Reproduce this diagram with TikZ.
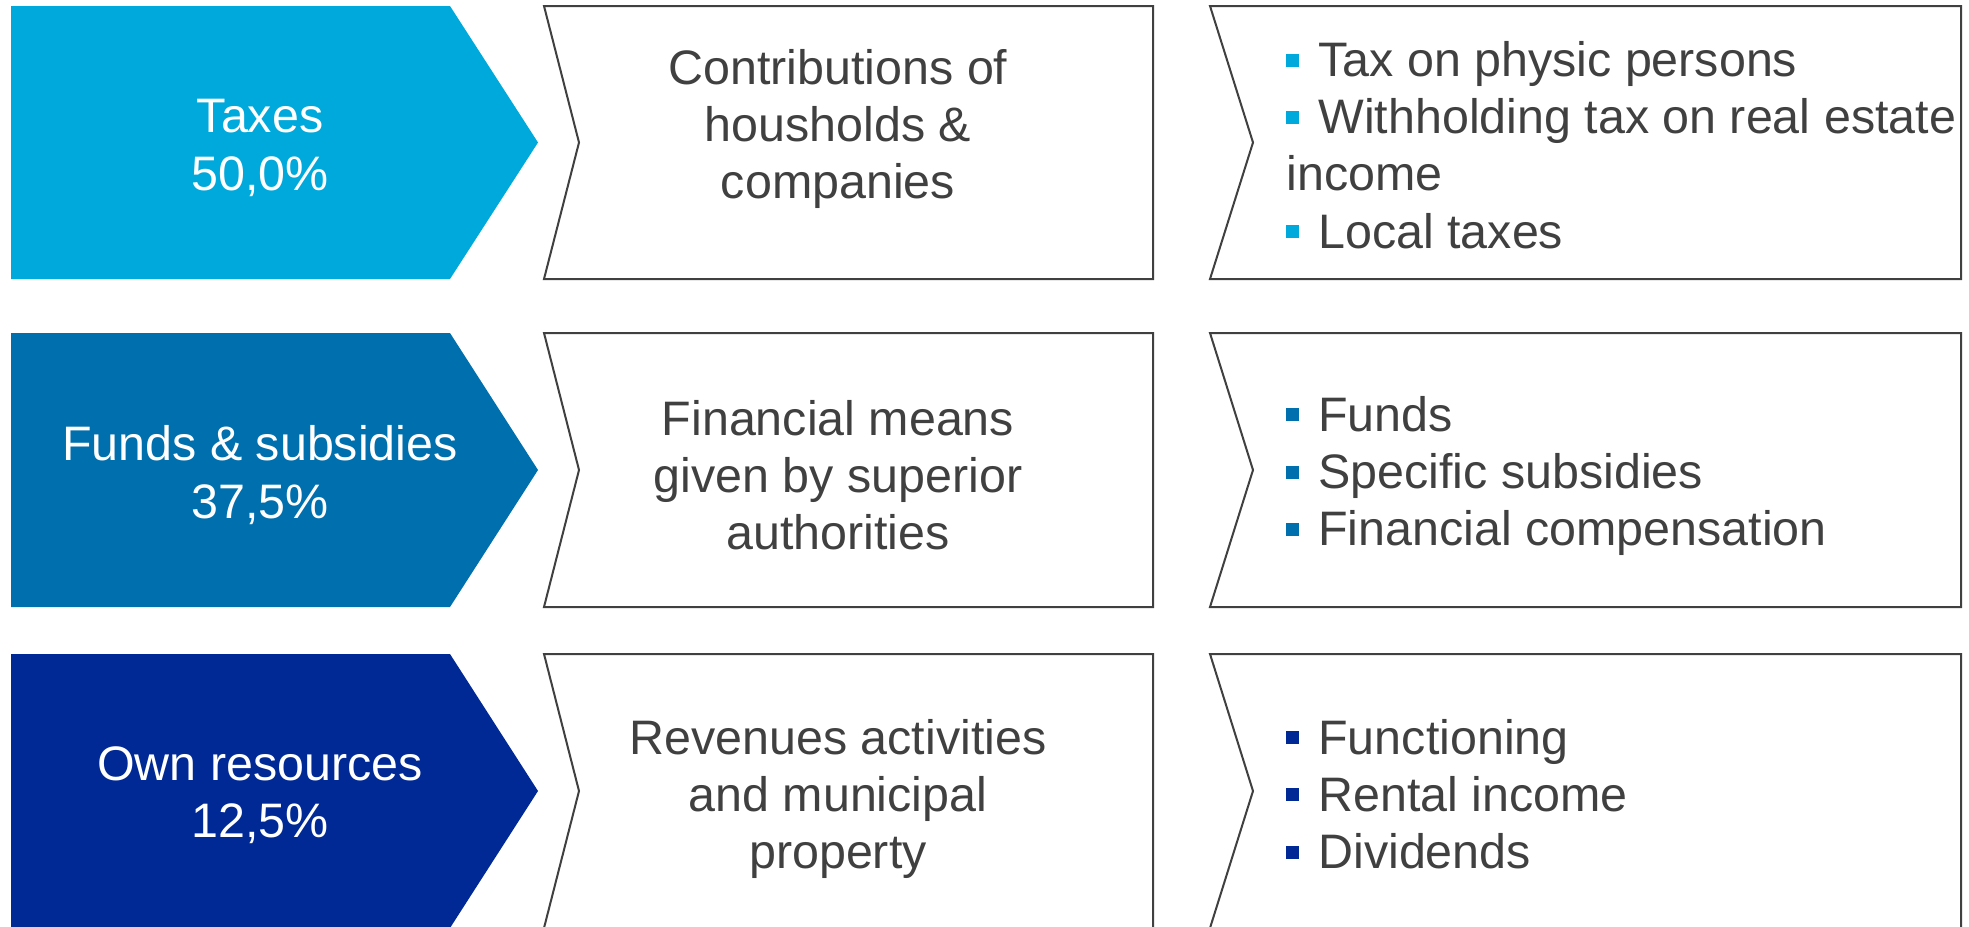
\documentclass[tikz,border=0pt]{standalone}
\usepackage{fontspec}
\setmainfont{Liberation Sans}
\usepackage{tikz}

\definecolor{taxblue}{RGB}{0,169,219}
\definecolor{fundblue}{RGB}{0,111,174}
\definecolor{ownblue}{RGB}{0,41,150}
\definecolor{textgray}{RGB}{64,64,64}

\newcommand{\sqbul}[1]{\raisebox{5pt}{\textcolor{#1}{\rule{6.5pt}{6.5pt}}}\hspace{9.5pt}}

\begin{document}
\begin{tikzpicture}[x=0.5pt, y=-0.5pt,
    box/.style={draw=textgray, line width=1pt, fill=white},
    big/.style={font=\fontsize{24.2}{28.6}\selectfont, inner sep=0pt},
    share/.style={big, text=white, align=center},
    src/.style={big, text=textgray, align=center},
    list/.style={big, text=textgray, align=left, anchor=west}]

\useasboundingbox (0,0) rectangle (1969,926);

% arrows and chevrons
\foreach \t/\b/\c in {6/279/taxblue, 333/607/fundblue, 654/928/ownblue}
{
\fill[\c] (11,\t) -- (450,\t) -- (538,{(\t+\b)/2}) -- (450,\b) -- (11,\b) -- cycle;
\draw[box] (544,\t) -- (1153,\t) -- (1153,\b) -- (544,\b) -- (579,{(\t+\b)/2}) -- cycle;
\draw[box] (1210,\t) -- (1961,\t) -- (1961,\b) -- (1210,\b) -- (1253,{(\t+\b)/2}) -- cycle;
}

% taxes
\node[share] (tax) at (260,148) {Taxes\\50,0\%};
\node[src] (taxsrc) at (838,129) {Contributions of\\housholds \&\\companies};
\node[list] (taxlist) at (1286,145) {\sqbul{taxblue}Tax on physic persons\\
  \sqbul{taxblue}Withholding tax on real estate\\income\\\sqbul{taxblue}Local taxes};

% funds
\node[share] (fund) at (260,475) {Funds \& subsidies\\37,5\%};
\node[src] (fundsrc) at (838,475) {Financial means\\given by superior\\authorities};
\node[list] (fundlist) at (1286,476) {\sqbul{fundblue}Funds\\
  \sqbul{fundblue}Specific subsidies\\\sqbul{fundblue}Financial compensation};

% own resources
\node[share] (own) at (260,795) {Own resources\\12,5\%};
\node[src] (ownsrc) at (838,799) {Revenues activities\\and municipal\\property};
\node[list] (ownlist) at (1286,794) {\sqbul{ownblue}Functioning\\
  \sqbul{ownblue}Rental income\\\sqbul{ownblue}Dividends};

\end{tikzpicture}
\end{document}
